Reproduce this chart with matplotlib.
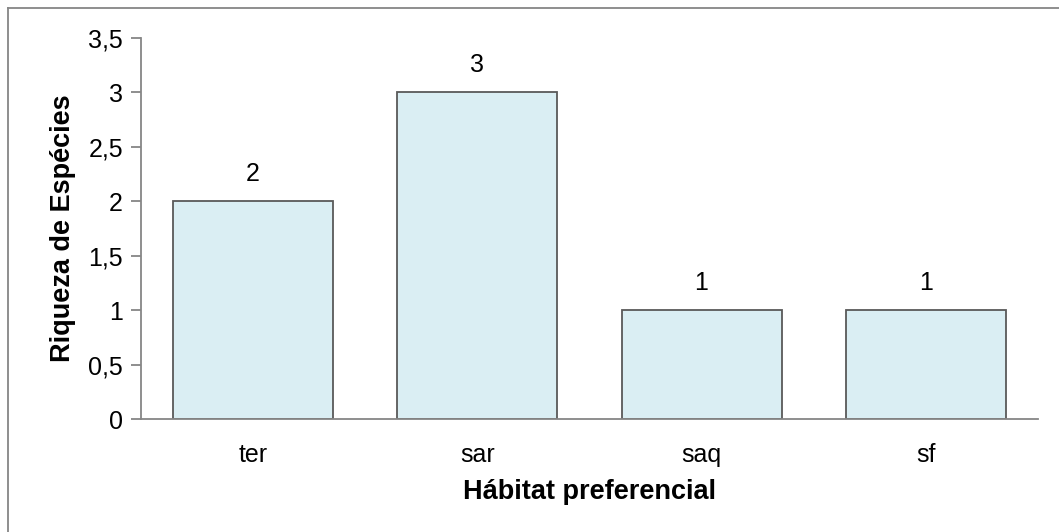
import matplotlib.pyplot as plt
from matplotlib.lines import Line2D

categories = ['ter', 'sar', 'saq', 'sf']
riqueza = [2, 3, 1, 1]
yticks = [0, 0.5, 1, 1.5, 2, 2.5, 3, 3.5]

plt.rcParams['font.family'] = ['Liberation Sans', 'DejaVu Sans']
fs = 18

fig = plt.figure(figsize=(10.59, 5.32), dpi=100)
ax = fig.add_axes([0.1331, 0.2124, 0.847, 0.7162])

x = range(len(categories))
bars = ax.bar(x, riqueza, width=0.713, color='#DAEEF3', edgecolor='#595959', linewidth=1.3)
for b, v in zip(bars, riqueza):
    ax.text(b.get_x() + b.get_width() / 2, v + 0.14, str(v), ha='center', va='bottom', fontsize=fs)

ax.set_xlim(-0.5, len(categories) - 0.5)
ax.set_ylim(0, 3.5)
ax.set_yticks(yticks)
ax.set_yticklabels([f'{t:g}'.replace('.', ',') for t in yticks], fontsize=fs)
ax.set_xticks(list(x))
ax.set_xticklabels(categories, fontsize=fs)
ax.tick_params(axis='x', length=0, pad=17)
ax.tick_params(axis='y', length=7, color='#868686', width=1.3, pad=6)

for s in ['top', 'right']:
    ax.spines[s].set_visible(False)
for s in ['left', 'bottom']:
    ax.spines[s].set_color('#868686')
    ax.spines[s].set_linewidth(1.3)

ax.set_ylabel('Riqueza de Espécies', fontsize=19.5, fontweight='bold', labelpad=9)
ax.set_xlabel('Hábitat preferencial', fontsize=19.5, fontweight='bold', labelpad=9)

# outer chart frame (only top and left edges visible)
fig.add_artist(Line2D([8 / 1059, 1.0], [1 - 7.5 / 532] * 2, transform=fig.transFigure, color='#868686', lw=1.3))
fig.add_artist(Line2D([8 / 1059] * 2, [0.0, 1 - 7.5 / 532], transform=fig.transFigure, color='#868686', lw=1.3))

fig.savefig('out.png', dpi=100)
